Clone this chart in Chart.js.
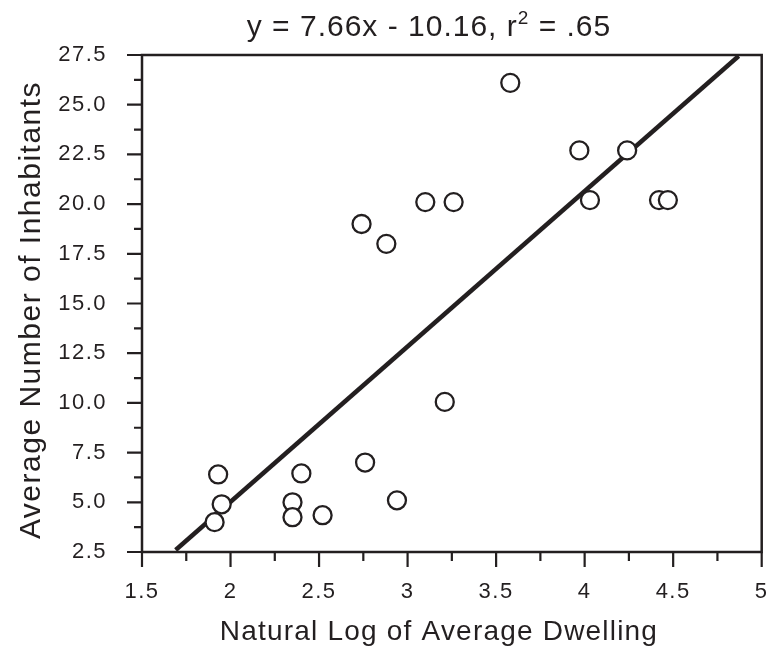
<!DOCTYPE html>
<html>
<head>
<meta charset="utf-8">
<script src="https://cdn.jsdelivr.net/npm/chart.js@4.4.1/dist/chart.umd.min.js"></script>
<style>
  html, body { margin: 0; padding: 0; background: #fff; }
  #wrap { width: 773px; height: 648px; }
</style>
</head>
<body>
<div id="wrap"><canvas id="chart" width="773" height="648"></canvas></div>
<script>
// data
const dwellingLog = [1.93, 1.95, 1.91, 2.40, 2.35, 2.35, 2.52, 2.76, 2.94, 3.21,
                     2.74, 2.88, 3.10, 3.26, 3.58, 3.97, 4.24, 4.03, 4.42, 4.47];
const inhabitants = [6.4, 4.9, 4.0, 6.45, 5.0, 4.25, 4.35, 7.0, 5.1, 10.05,
                     19.0, 18.0, 20.1, 20.1, 26.1, 22.7, 22.7, 20.2, 20.2, 20.2];
// regression line ends as drawn
const fitX = [1.69, 4.87];
const fitY = [2.6, 27.45];

// title pieces: main text, superscript, rest
const titleParts = ['y = 7.66x - 10.16, r', '2', ' = .65'];
const xTitle = 'Natural Log of Average Dwelling';
const yTitle = 'Average Number of Inhabitants';

const xMinorTicks = [1.75, 2.25, 2.75, 3.25, 3.75, 4.25, 4.75];
const yMinorTicks = [3.75, 6.25, 8.75, 11.25, 13.75, 16.25, 18.75, 21.25, 23.75, 26.25];

const ink = '#231f20';
const fontFam = '"Liberation Sans", Arial, Helvetica, sans-serif';

const points = dwellingLog.map((x, i) => ({ x: x, y: inhabitants[i] }));
const fitLine = fitX.map((x, i) => ({ x: x, y: fitY[i] }));

// frame, tick marks and titles
const decor = {
    id: 'decor',
    beforeDraw(chart) {
        chart.ctx.letterSpacing = '1.5px';
    },
    afterDraw(chart) {
        const ctx = chart.ctx;
        const a = chart.chartArea;
        const xs = chart.scales.x, ys = chart.scales.y;
        ctx.save();
        ctx.strokeStyle = ink;
        ctx.lineWidth = 2.5;
        ctx.strokeRect(a.left, a.top, a.right - a.left, a.bottom - a.top);

        ctx.lineWidth = 2.2;
        ctx.beginPath();
        xs.ticks.forEach(t => {
            const px = xs.getPixelForValue(t.value);
            ctx.moveTo(px, a.bottom); ctx.lineTo(px, a.bottom + 15);
        });
        xMinorTicks.forEach(v => {
            const px = xs.getPixelForValue(v);
            ctx.moveTo(px, a.bottom); ctx.lineTo(px, a.bottom + 9);
        });
        ys.ticks.forEach(t => {
            const py = ys.getPixelForValue(t.value);
            ctx.moveTo(a.left, py); ctx.lineTo(a.left - 15, py);
        });
        yMinorTicks.forEach(v => {
            const py = ys.getPixelForValue(v);
            ctx.moveTo(a.left, py); ctx.lineTo(a.left - 8, py);
        });
        ctx.stroke();

        ctx.fillStyle = ink;
        ctx.textBaseline = 'alphabetic';

        // title with a raised 2
        ctx.textAlign = 'left';
        ctx.letterSpacing = '1px';
        const big = '30px ' + fontFam, small = '19px ' + fontFam;
        ctx.font = big;
        const w0 = ctx.measureText(titleParts[0]).width;
        const w2 = ctx.measureText(titleParts[2]).width;
        ctx.font = small;
        const w1 = ctx.measureText(titleParts[1]).width;
        let tx = 429 - (w0 + w1 + w2) / 2;
        ctx.font = big;
        ctx.fillText(titleParts[0], tx, 36);
        tx += w0;
        ctx.font = small;
        ctx.fillText(titleParts[1], tx, 24);
        tx += w1;
        ctx.font = big;
        ctx.fillText(titleParts[2], tx, 36);

        ctx.textAlign = 'center';
        ctx.letterSpacing = '1.2px';
        ctx.font = '28px ' + fontFam;
        ctx.fillText(xTitle, 439, 640);
        ctx.letterSpacing = '1.5px';
        ctx.font = '30px ' + fontFam;
        ctx.translate(40, 310);
        ctx.rotate(-Math.PI / 2);
        ctx.fillText(yTitle, 0, 0);
        ctx.restore();
    }
};

new Chart(document.getElementById('chart'), {
    type: 'scatter',
    data: {
        datasets: [
            {
                data: points,
                order: 0,
                pointRadius: 9,
                pointHoverRadius: 9,
                borderWidth: 2.3,
                borderColor: ink,
                backgroundColor: '#fff'
            },
            {
                type: 'line',
                data: fitLine,
                order: 1,
                borderColor: ink,
                borderWidth: 4.5,
                pointRadius: 0,
                fill: false
            }
        ]
    },
    options: {
        responsive: false,
        animation: false,
        layout: { padding: { top: 55, right: 8, left: 0, bottom: 0 } },
        plugins: { legend: { display: false }, title: { display: false }, tooltip: { enabled: false } },
        scales: {
            x: {
                type: 'linear',
                min: 1.5, max: 5,
                afterFit(s) { s.height = 96; s.paddingLeft = 0; s.paddingRight = 0; },
                grid: { display: false },
                border: { display: false },
                ticks: {
                    stepSize: 0.5,
                    padding: 19,
                    color: ink,
                    font: { family: fontFam, size: 22 },
                    callback: v => String(v)
                }
            },
            y: {
                min: 2.5, max: 27.5,
                afterFit(s) { s.width = 142; s.paddingTop = 0; s.paddingBottom = 0; },
                grid: { display: false },
                border: { display: false },
                ticks: {
                    stepSize: 2.5,
                    padding: 27,
                    color: ink,
                    font: { family: fontFam, size: 22 },
                    callback: v => v.toFixed(1)
                }
            }
        }
    },
    plugins: [decor]
});
</script>
</body>
</html>
